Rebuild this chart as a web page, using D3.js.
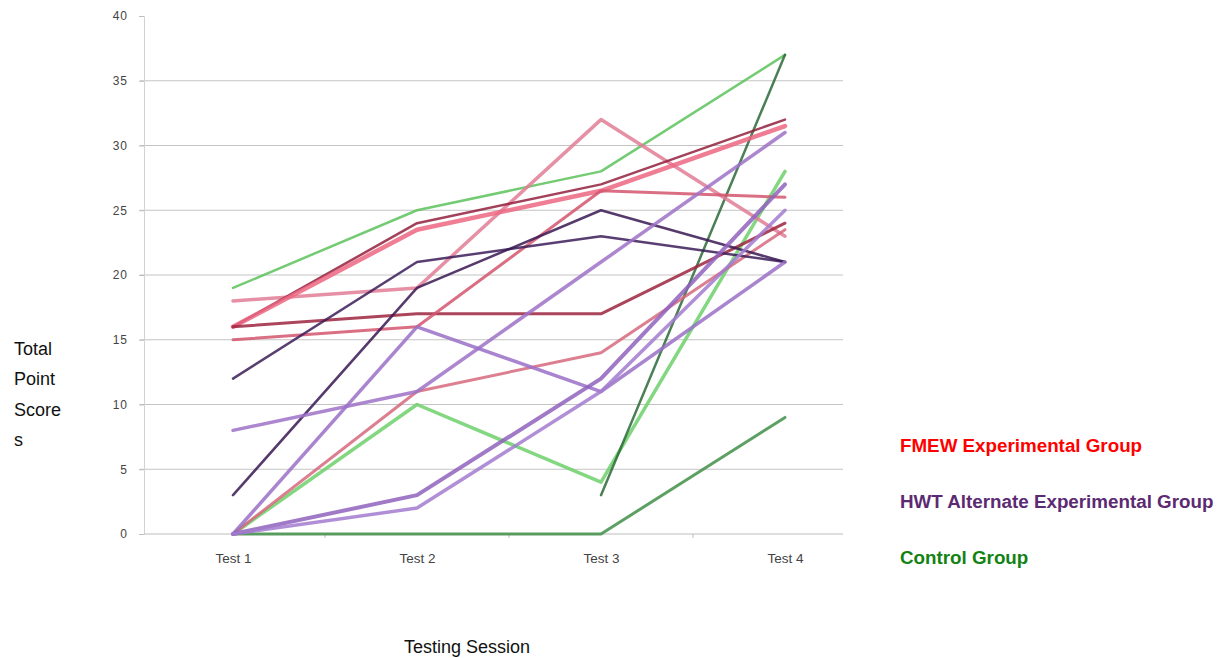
<!DOCTYPE html>
<html>
    <head>
        <script src="https://d3js.org/d3.v7.min.js"></script>
        <style>
            body{ margin:0; background:#fff; }
            text{ font-family:"Liberation Sans", Arial, sans-serif; }
        </style>
    </head>
    <body>
        <svg height="658" width="1224" id="chart"></svg>
        <script>
            // sessions and tick values
            const sessions=["Test 1","Test 2","Test 3","Test 4"];
            const yTicks=[0,5,10,15,20,25,30,35,40];

            // scores per student
            const fmewScores=[
                [18,19,32,23],
                [16,24,27,32],
                [16,23.5,26.5,31.5],
                [16,17,17,24],
                [15,16,26.5,26],
                [0,11,14,23.5]
            ];
            const hwtScores=[
                [12,21,23,21],
                [3,19,25,21],
                [8,11,21,31],
                [0,16,11,21],
                [0,3,12,27],
                [0,2,11,25]
            ];
            const controlScores=[
                [19,25,28,37],
                [0,10,4,28],
                [0,0,0,9],
                [null,null,3,37]
            ];

            const groupNames=["FMEW Experimental Group","HWT Alternate Experimental Group","Control Group"];

            // pencil colours
            const fmewColors=["#e27d95","#92203c","#ec6783","#9c2440","#d3566f","#d6687c"];
            const hwtColors=["#3b1c58","#3a1852","#9d72c8","#9a70c8","#8f62bd","#a27bcf"];
            const controlColors=["#5cc25a","#6cd06a","#3f8f48","#2c6a38"];
            const legendColors=["#ff0000","#5c2a72","#128212"];

            let svg=d3.select("#chart");
            let plotLeft=144, plotRight=843, plotTop=16, plotBottom=534;

            let x=d3.scalePoint().domain(sessions).range([233,785]);
            let y=d3.scaleLinear().domain([0,40]).range([plotBottom,plotTop]);

            // grid lines
            svg.append("g").selectAll("line.grid").data(yTicks.filter(d=>d>0 && d<40))
                .join("line")
                .attr("class","grid")
                .attr("x1",plotLeft-4).attr("x2",plotRight)
                .attr("y1",d=>y(d)).attr("y2",d=>y(d))
                .style("stroke","#c4c4c4")
                .style("stroke-width",1);

            // y axis
            let yAxis=svg.append("g")
                .attr("transform",`translate(${plotLeft},0)`)
                .call(d3.axisLeft(y).tickValues(yTicks).tickSize(5).tickPadding(11));
            yAxis.select(".domain").style("stroke","#d2d2d2");
            yAxis.selectAll(".tick line").style("stroke","#bdbdbd");
            yAxis.selectAll("text")
                .style("font-size","12px")
                .style("letter-spacing","1px")
                .style("fill","#444");

            // x axis line at zero
            let xAxis=svg.append("g")
                .attr("transform",`translate(0,${plotBottom})`)
                .call(d3.axisBottom(x).tickSize(0).tickPadding(19));
            xAxis.select(".domain").attr("d",`M${plotLeft},0H${plotRight}`).style("stroke","#bdbdbd");
            xAxis.selectAll("text")
                .style("font-size","13.5px")
                .style("fill","#444");

            let mids=d3.range(sessions.length-1).map(i=>(x(sessions[i])+x(sessions[i+1]))/2);
            svg.append("g").selectAll("line.xtick").data(mids)
                .join("line")
                .attr("x1",d=>d).attr("x2",d=>d)
                .attr("y1",plotBottom).attr("y2",plotBottom+4)
                .style("stroke","#bdbdbd");

            // the pencil lines
            let line=d3.line()
                .defined(d=>d[1]!==null)
                .x(d=>x(d[0]))
                .y(d=>y(d[1]));

            function drawGroup(scores, colors, width){
                svg.append("g").selectAll("path").data(scores)
                    .join("path")
                    .attr("d",d=>line(d.map((v,i)=>[sessions[i],v])))
                    .style("fill","none")
                    .style("stroke",(d,i)=>colors[i])
                    .style("stroke-width",(d,i)=>width[i])
                    .style("stroke-opacity",0.85)
                    .style("stroke-linecap","round")
                    .style("stroke-linejoin","round");
            }
            drawGroup(controlScores, controlColors, [2.5,3.5,3,2.5]);
            drawGroup(fmewScores, fmewColors, [3.5,2.5,4.5,3,3,3]);
            drawGroup(hwtScores, hwtColors, [2.5,2.5,3.5,3.5,4,3.5]);

            // y label, wrapped as in the original
            svg.append("text")
                .attr("x",14).attr("y",355)
                .style("font-size","18px")
                .style("fill","#111")
                .selectAll("tspan").data(["Total","Point","Score","s"])
                .join("tspan")
                .attr("x",14)
                .attr("dy",(d,i)=>i==0?0:30.3)
                .text(d=>d);

            svg.append("text")
                .attr("x",467).attr("y",653)
                .attr("text-anchor","middle")
                .style("font-size","18px")
                .style("fill","#111")
                .text("Testing Session");

            // legend
            svg.append("g").selectAll("text").data(groupNames)
                .join("text")
                .attr("x",900)
                .attr("y",(d,i)=>452+i*56)
                .style("font-size","18.8px")
                .style("font-weight","bold")
                .style("fill",(d,i)=>legendColors[i])
                .text(d=>d);
        </script>
    </body>
</html>
